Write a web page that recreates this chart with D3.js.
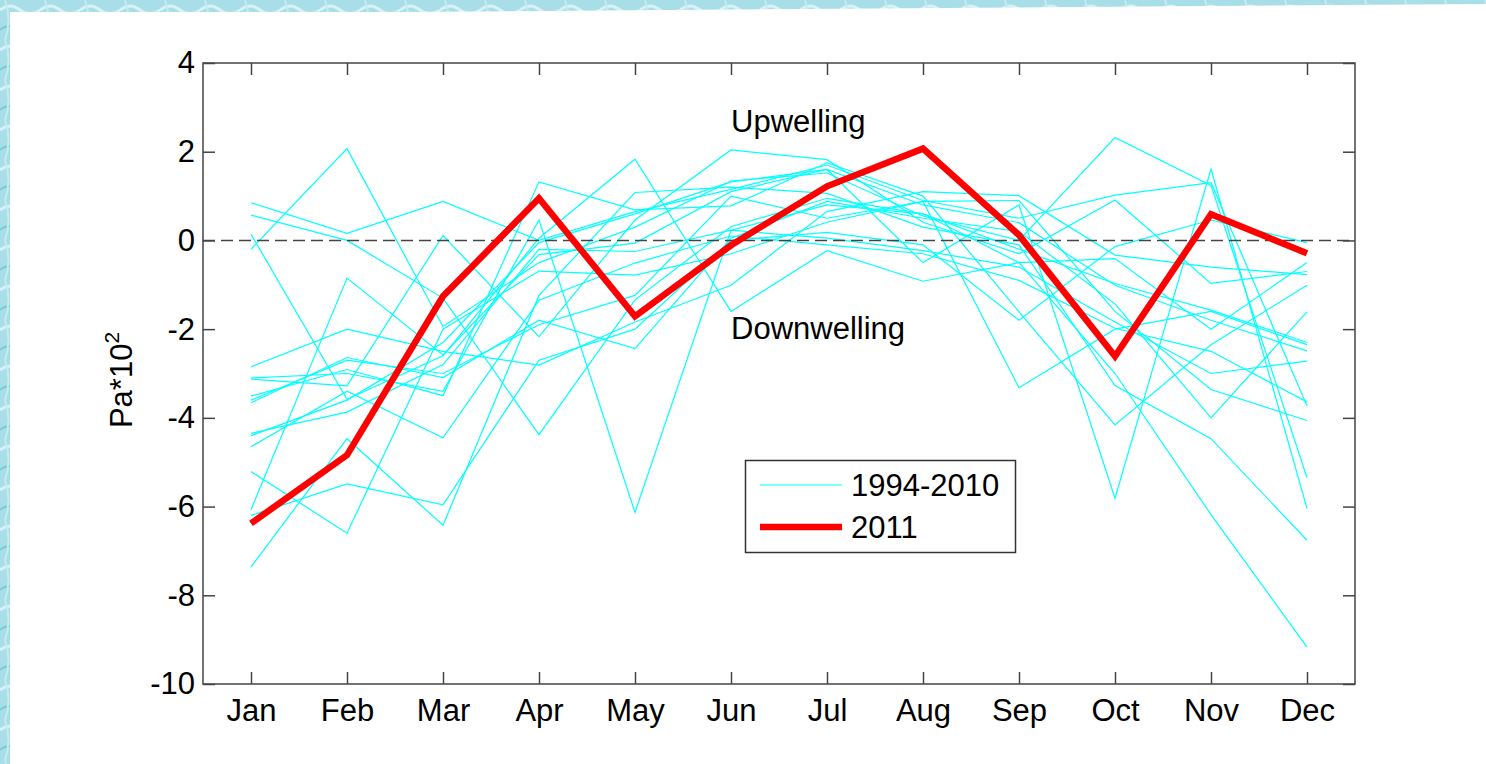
<!DOCTYPE html>
<html>
<head>
<meta charset="utf-8">
<script src="https://cdn.jsdelivr.net/npm/d3@7"></script>
<style>
  html, body { margin: 0; padding: 0; background: #ffffff; }
  svg { display: block; }
  text { font-family: "Liberation Sans", Arial, sans-serif; fill: #000; }
</style>
</head>
<body>
<svg id="chart" width="1486" height="764"></svg>
<script>
// ---------------- data ----------------
const months = ["Jan","Feb","Mar","Apr","May","Jun","Jul","Aug","Sep","Oct","Nov","Dec"];
const yTicks = [4, 2, 0, -2, -4, -6, -8, -10];

// 1994-2010 monthly values (Pa*10^2)
const y1994 = [0.85, 0.16, 0.88, 0.0, 0.65, 1.15, 1.7, 0.9, 0.5, 1.02, 1.3, -3.73];
const y1995 = [0.57, 0.0, -1.3, -4.38, -1.34, 0.31, 0.95, 0.6, -0.2, -0.97, -1.57, -2.3];
const y1996 = [-0.2, 2.07, -1.94, -0.5, 0.3, 1.34, 1.52, 0.55, 0.0, 2.32, 1.24, -5.35];
const y1997 = [0.14, -3.58, -2.6, 0.05, 1.83, -1.6, -0.23, -0.92, -0.5, -3.0, -6.18, -9.17];
const y1998 = [-2.85, -2.0, -2.5, -2.81, -1.84, -1.01, 0.65, 1.1, 1.01, -0.33, -0.6, -0.77];
const y1999 = [-3.13, -3.28, 0.11, -2.17, 0.46, 2.04, 1.82, 0.41, -0.3, 0.91, -0.97, -0.7];
const y2000 = [-3.51, -2.91, -3.5, 1.32, 0.69, 0.78, 1.75, 1.0, -1.61, -4.16, -2.35, -1.01];
const y2001 = [-3.66, -2.64, -3.09, -1.8, -2.44, 0.05, 0.88, 0.5, 0.2, -1.43, -4.0, -1.61];
const y2002 = [-4.35, -3.87, -2.8, -0.2, -0.25, 0.23, 0.05, -0.23, -0.6, -1.84, -3.0, -2.72];
const y2003 = [-6.07, -0.85, -2.58, -0.32, -0.06, 1.1, 1.6, 0.8, 0.4, -1.01, -1.8, -2.49];
const y2004 = [-4.65, -3.4, -4.45, -1.35, -0.51, 0.1, -0.1, -0.3, -0.9, -1.98, -2.5, -3.64];
const y2005 = [-7.36, -4.47, -6.42, -1.24, 1.08, 1.2, 1.06, 0.3, -0.1, -3.27, -4.47, -6.76];
const y2006 = [-5.21, -6.6, -2.0, -0.69, -0.78, -0.3, 0.41, 0.88, 0.9, -1.6, -3.36, -4.06];
const y2007 = [-6.2, -5.49, -5.96, -2.7, -2.0, 0.0, 0.18, -0.1, -1.8, -0.14, 0.46, -0.05];
const y2008 = [-3.1, -3.0, -3.4, 0.46, -6.13, 0.23, 0.8, 0.6, -0.5, -0.41, -2.0, -0.5];
const y2009 = [-3.6, -2.7, -3.0, -1.9, -1.24, 1.0, 0.5, 0.88, -3.32, -2.0, -1.6, -2.35];
const y2010 = [-4.4, -3.6, -2.3, -0.05, 0.6, 1.32, 1.6, -0.5, 0.8, -5.81, 1.61, -6.04];
// 2011
const y2011 = [-6.38, -4.84, -1.26, 0.95, -1.71, -0.11, 1.22, 2.07, 0.12, -2.61, 0.59, -0.29];

const pastYears = [y1994, y1995, y1996, y1997, y1998, y1999, y2000, y2001, y2002,
                   y2003, y2004, y2005, y2006, y2007, y2008, y2009, y2010];
const legendLabels = ["1994-2010", "2011"];
const zoneLabels = ["Upwelling", "Downwelling"];
const yLabel = "Pa*10";

// ---------------- layout ----------------
const svg = d3.select("#chart");
const W = 1486, H = 764;
const plot = { left: 203, right: 1355, top: 63, bottom: 684 };
const FS = 31;

// textured cyan border (top & left)
const defs = svg.append("defs");
const pat = defs.append("pattern").attr("id", "tex").attr("patternUnits", "userSpaceOnUse")
  .attr("width", 40).attr("height", 40);
pat.append("rect").attr("width", 40).attr("height", 40).attr("fill", "#a8dee8");
pat.append("path").attr("d", "M0,10 Q10,2 20,10 T40,10").attr("stroke", "#d6f2f6").attr("stroke-width", 3).attr("fill", "none");
pat.append("path").attr("d", "M0,30 Q10,22 20,30 T40,30").attr("stroke", "#7ccad8").attr("stroke-width", 2).attr("fill", "none");
pat.append("path").attr("d", "M5,0 Q12,20 5,40").attr("stroke", "#c4ebf1").attr("stroke-width", 2).attr("fill", "none");

svg.append("rect").attr("width", W).attr("height", H).attr("fill", "#ffffff");
svg.append("path").attr("d", `M0,0 L${W},0 L${W},4 L400,12 L10,12 L10,${H} L0,${H} Z`).attr("fill", "url(#tex)");

// scales
const x = d3.scaleLinear().domain([0.5, 12.5]).range([plot.left, plot.right]);
const y = d3.scaleLinear().domain([-10, 4]).range([plot.bottom, plot.top]);

const line = d3.line().x((d, i) => x(i + 1)).y(d => y(d));

const clip = defs.append("clipPath").attr("id", "clip");
clip.append("rect").attr("x", plot.left).attr("y", plot.top)
  .attr("width", plot.right - plot.left).attr("height", plot.bottom - plot.top);

const g = svg.append("g").attr("clip-path", "url(#clip)");

// past years
g.selectAll("path.past").data(pastYears).enter().append("path")
  .attr("class", "past")
  .attr("d", line)
  .attr("fill", "none")
  .attr("stroke", "#00ffff")
  .attr("stroke-width", 1.2);

// zero dashed line
g.append("line")
  .attr("x1", plot.left).attr("x2", plot.right)
  .attr("y1", y(0)).attr("y2", y(0))
  .attr("stroke", "#444").attr("stroke-width", 1.5)
  .attr("stroke-dasharray", "12,6");

// 2011
g.append("path").datum(y2011)
  .attr("d", line)
  .attr("fill", "none")
  .attr("stroke", "#ff0000")
  .attr("stroke-width", 6.5)
  .attr("stroke-linejoin", "miter");

// axes: frame
svg.append("rect").attr("x", plot.left).attr("y", plot.top)
  .attr("width", plot.right - plot.left).attr("height", plot.bottom - plot.top)
  .attr("fill", "none").attr("stroke", "#444").attr("stroke-width", 1.5);

const tickLen = 12;
const axisLeft = d3.axisLeft(y).tickValues(yTicks).tickSize(-tickLen).tickPadding(8)
  .tickFormat(d => String(d));
const axisRight = d3.axisRight(y).tickValues(yTicks).tickSize(-tickLen).tickFormat("");
const axisBottom = d3.axisBottom(x).tickValues(d3.range(1, 13)).tickSize(-tickLen).tickPadding(15)
  .tickFormat(d => months[d - 1]);
const axisTop = d3.axisTop(x).tickValues(d3.range(1, 13)).tickSize(-tickLen).tickFormat("");

function styleAxis(sel) {
  sel.select(".domain").remove();
  sel.selectAll(".tick line").attr("stroke", "#444").attr("stroke-width", 1.5);
  sel.selectAll(".tick text").attr("font-size", FS).attr("fill", "#000")
    .attr("font-family", "'Liberation Sans', Arial, sans-serif");
}
svg.append("g").attr("transform", `translate(${plot.left},0)`).call(axisLeft).call(styleAxis);
svg.append("g").attr("transform", `translate(${plot.right},0)`).call(axisRight).call(styleAxis);
svg.append("g").attr("transform", `translate(0,${plot.bottom})`).call(axisBottom).call(styleAxis);
svg.append("g").attr("transform", `translate(0,${plot.top})`).call(axisTop).call(styleAxis);

// y label
const yl = svg.append("text")
  .attr("transform", `translate(132,380) rotate(-90)`)
  .attr("text-anchor", "middle").attr("font-size", FS);
yl.append("tspan").text(yLabel);
yl.append("tspan").attr("dy", -13).attr("font-size", 21).text("2");

// zone labels
svg.append("text").attr("x", 731).attr("y", 132).attr("font-size", FS).text(zoneLabels[0]);
svg.append("text").attr("x", 731).attr("y", 339).attr("font-size", FS).text(zoneLabels[1]);

// legend
const lg = svg.append("g");
lg.append("rect").attr("x", 745.5).attr("y", 460.5).attr("width", 270).attr("height", 92)
  .attr("fill", "#fff").attr("stroke", "#333").attr("stroke-width", 1.5);
const legendStyles = [{ c: "#00ffff", w: 1.2 }, { c: "#ff0000", w: 6.5 }];
legendLabels.forEach((lab, i) => {
  const yy = 485 + i * 42;
  lg.append("line").attr("x1", 760).attr("x2", 842).attr("y1", yy).attr("y2", yy)
    .attr("stroke", legendStyles[i].c).attr("stroke-width", legendStyles[i].w);
  lg.append("text").attr("x", 851).attr("y", yy + 11).attr("font-size", FS).text(lab);
});
</script>
</body>
</html>
